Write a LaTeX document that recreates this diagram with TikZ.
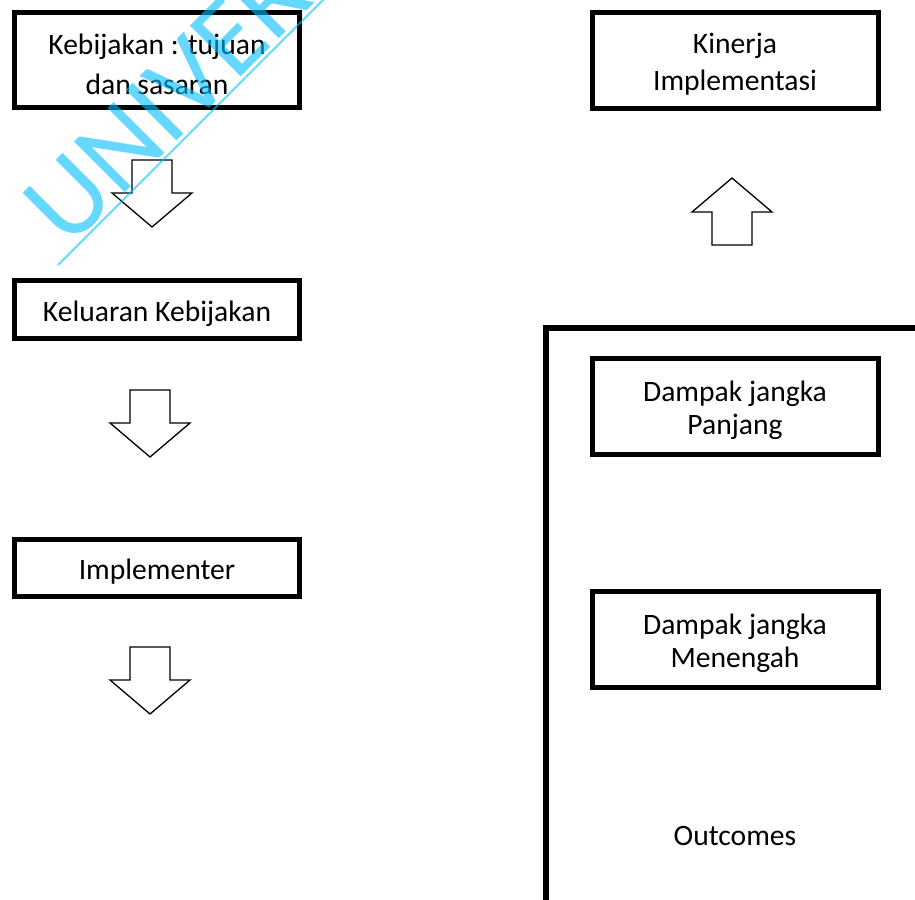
\documentclass[tikz,border=0pt]{standalone}
\usepackage{fontspec}
\setmainfont{Carlito}
\definecolor{wmcyan}{RGB}{0,190,255}
\newcommand{\boxfont}{\fontsize{14.8}{18.5}\selectfont}
\begin{document}
\begin{tikzpicture}[x=0.5pt,y=-0.5pt,
  box/.style={draw=black, line width=2.5pt, inner sep=0pt},
  tallbox/.style={box, minimum width=143pt, minimum height=47.75pt},
  flatbox/.style={box, minimum width=142.5pt, minimum height=28.75pt},
  boxtext/.style={inner sep=0pt, align=center, font=\boxfont, yshift=-2pt},
  plain/.style={inner sep=0pt, align=center, font=\boxfont},
  arrowline/.style={draw=black, line width=0.65pt, line join=miter},
  frameline/.style={draw=black, line width=2.6pt, line join=miter},
  watermark/.style={text=wmcyan, text opacity=0.6, inner sep=0pt, font=\fontsize{56}{66}\selectfont},
  blockarrow/.pic={\path[arrowline] (-20,0) -- (20,0) -- (20,33) -- (40,33) -- (0,67) -- (-40,33) -- (-20,33) -- cycle;}
]
\useasboundingbox (0,0) rectangle (915,899);
\clip (0,0) rectangle (915,899);

% left column: policy chain
\node[tallbox, minimum width=142.5pt] (kebijakan) at (157,60) {};
\node[boxtext] (kebijakanText) at (kebijakan.center) {Kebijakan : tujuan\\[1.5pt]dan sasaran};
\node[flatbox] (keluaran) at (157,309.5) {};
\node[boxtext] (keluaranText) at (keluaran.center) {Keluaran Kebijakan};
\node[flatbox] (implementer) at (157,568) {};
\node[boxtext] (implementerText) at (implementer.center) {Implementer};

\pic at (152,160) {blockarrow};
\pic at (150,390) {blockarrow};
\pic at (150,647) {blockarrow};

% right column: performance and impacts
\node[tallbox] (kinerja) at (735,60.5) {};
\node[boxtext] (kinerjaText) at (kinerja.center) {Kinerja\\Implementasi};
\pic[yscale=-1] at (732,245) {blockarrow};

\path[frameline] (546,910) -- (546,328) -- (925,328);

\node[tallbox] (panjang) at (735,406.5) {};
\node[boxtext] (panjangText) at (panjang.center) {Dampak jangka\\[-2pt]Panjang};
\node[tallbox] (menengah) at (735,639.5) {};
\node[boxtext] (menengahText) at (menengah.center) {Dampak jangka\\[-2pt]Menengah};
\node[plain] (outcomes) at (735,836) {Outcomes};

% stamp across the upper left, with its underline
\node[watermark, rotate=45, anchor=base west] (stamp) at (68,250) {UNIVERS};
\coordinate (stampA) at (58,265);
\coordinate (stampB) at (330,-7);
\draw[wmcyan, opacity=0.6, line width=1pt] (stampA) -- (stampB);
\end{tikzpicture}
\end{document}
